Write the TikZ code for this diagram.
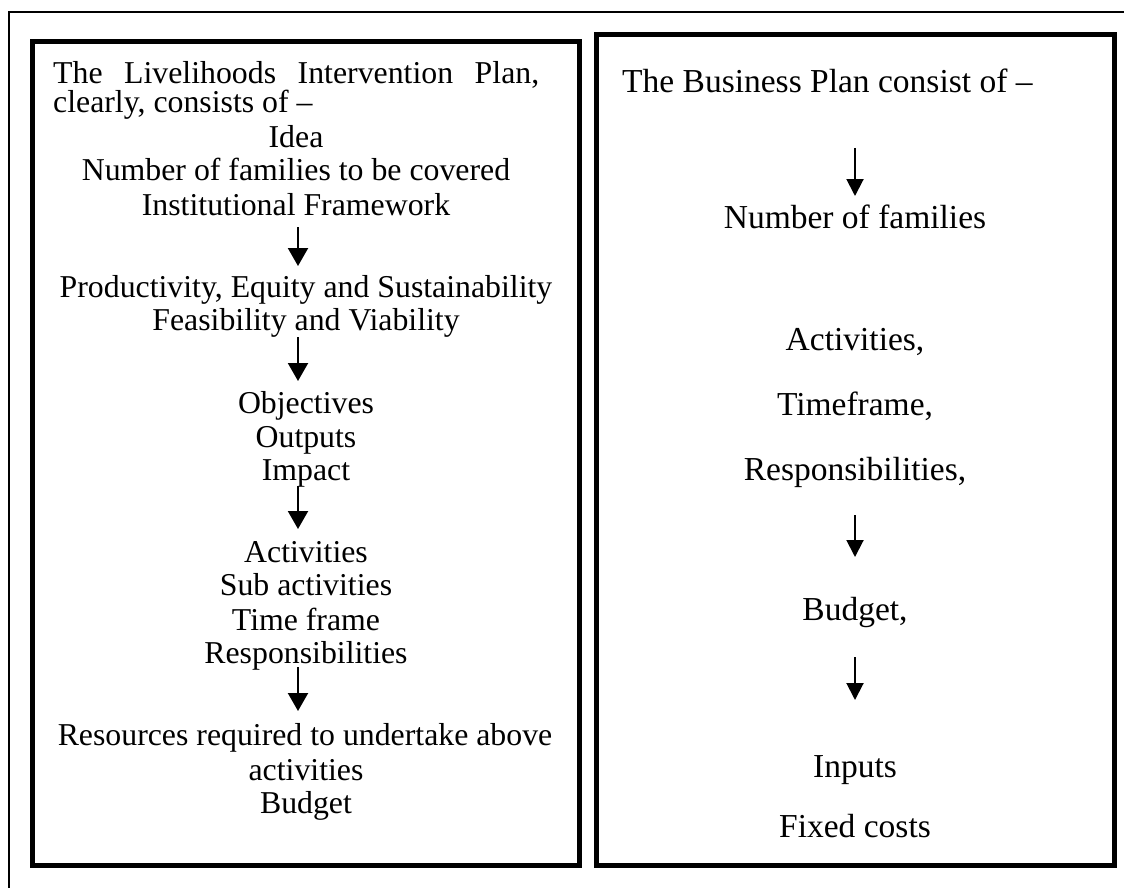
\documentclass[tikz,border=0pt]{standalone}
\usepackage{fontspec}
\setmainfont{Liberation Serif}
\usetikzlibrary{arrows.meta}
\tikzset{
  x=1pt,y=-1pt,
  frame/.style={line width=1.6pt},
  panel/.style={line width=5pt,line join=miter},
  ltxt/.style={anchor=base,inner sep=0pt,font=\fontsize{31.8}{34}\selectfont},
  rtxt/.style={anchor=base,inner sep=0pt,font=\fontsize{33.5}{36}\selectfont},
  larr/.style={line width=2.2pt,-{Triangle[width=20pt,length=18pt]}},
  rarr/.style={line width=2pt,-{Triangle[width=17pt,length=17pt]}},
}
\begin{document}
\begin{tikzpicture}
\useasboundingbox (0,0) rectangle (1124,888);
% outer frame (clipped by page)
\draw[frame] (1124,12) -- (9,12) -- (9,888);
% panels
\draw[panel] (32.5,42) rectangle (579.5,865);
\draw[panel] (596,35) rectangle (1114,865);

% ---- left panel ----
\node[ltxt,anchor=base west,align=left,font=\fontsize{31.8}{29}\selectfont] (lh) at (53,113)
  {\makebox[486pt]{The\hfill Livelihoods\hfill Intervention\hfill Plan,}\\clearly, consists of –};
\node[ltxt] (l1) at (296,147) {Idea};
\node[ltxt] (l2) at (296,180) {Number of families to be covered};
\node[ltxt] (l3) at (296,215) {Institutional Framework};
\node[ltxt] (l4) at (306,297) {Productivity, Equity and Sustainability};
\node[ltxt] (l5) at (306,330) {Feasibility and Viability};
\node[ltxt] (l6) at (306,413) {Objectives};
\node[ltxt] (l7) at (306,447) {Outputs};
\node[ltxt] (l8) at (306,480) {Impact};
\node[ltxt] (l9) at (306,562) {Activities};
\node[ltxt] (l10) at (306,595) {Sub activities};
\node[ltxt] (l11) at (306,630) {Time frame};
\node[ltxt] (l12) at (306,663) {Responsibilities};
\node[ltxt] (l13) at (305,745) {Resources required to undertake above};
\node[ltxt] (l14) at (306,780) {activities};
\node[ltxt] (l15) at (306,813) {Budget};

\coordinate (la1s) at (298,227); \coordinate (la1e) at (298,266);
\coordinate (la2s) at (298,337); \coordinate (la2e) at (298,381);
\coordinate (la3s) at (298,486); \coordinate (la3e) at (298,529);
\coordinate (la4s) at (298,667); \coordinate (la4e) at (298,711);
\draw[larr] (la1s) -- (la1e);
\draw[larr] (la2s) -- (la2e);
\draw[larr] (la3s) -- (la3e);
\draw[larr] (la4s) -- (la4e);

% ---- right panel ----
\node[rtxt,anchor=base west] (rh) at (622,93) {The Business Plan consist of –};
\node[rtxt] (r1) at (855,228) {Number of families};
\node[rtxt] (r2) at (855,350) {Activities,};
\node[rtxt] (r3) at (855,415) {Timeframe,};
\node[rtxt] (r4) at (855,480) {Responsibilities,};
\node[rtxt] (r5) at (855,620) {Budget,};
\node[rtxt] (r6) at (855,777) {Inputs};
\node[rtxt] (r7) at (855,837) {Fixed costs};

\coordinate (ra1s) at (855,148); \coordinate (ra1e) at (855,196);
\coordinate (ra2s) at (855,515); \coordinate (ra2e) at (855,557);
\coordinate (ra3s) at (855,657); \coordinate (ra3e) at (855,700);
\draw[rarr] (ra1s) -- (ra1e);
\draw[rarr] (ra2s) -- (ra2e);
\draw[rarr] (ra3s) -- (ra3e);
\end{tikzpicture}
\end{document}
